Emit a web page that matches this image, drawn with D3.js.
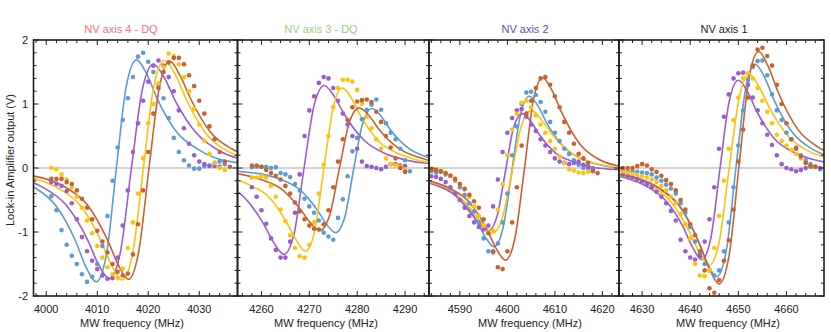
<!DOCTYPE html>
<html>
<head>
<meta charset="utf-8">
<script src="https://cdn.jsdelivr.net/npm/d3@7"></script>
<style>
  body { margin: 0; background: #fff; }
  svg { display: block; font-family: "Liberation Sans", Arial, sans-serif; }
</style>
</head>
<body>
<svg id="chart" width="831" height="332"></svg>
<script>
// ---- data ----
var panelTitles = ["NV axis 4 - DQ", "NV axis 3 - DQ", "NV axis 2", "NV axis 1"];
var freqDomains = [[3997.5, 4037.5], [4255, 4295], [4583.5, 4623.5], [4625.2, 4667.8]];
var freqTicks = [[4000, 4010, 4020, 4030], [4260, 4270, 4280, 4290], [4590, 4600, 4610, 4620], [4630, 4640, 4650, 4660]];
var voltTicks = [-2, -1, 0, 1, 2];
var seriesNames = ["blue", "purple", "yellow", "orange"];

// first frequency of each measured sweep (1 MHz steps)
var dotStarts = [[4001, 4001, 4001, 4001], [4258, 4258, 4258, 4258], [4584, 4584, 4584, 4584], [4625, 4625, 4625, 4625]];

// NV axis 4 - DQ
var dotsA4Blue = [-0.44,-0.66,-0.97,-1.20,-1.37,-1.50,-1.66,-1.78,-1.70,-1.50,-1.22,-0.75,-0.20,0.32,0.75,1.09,1.42,1.74,1.80,1.66,1.50,1.30,1.09,0.78,0.47,0.25,0.12,0.04,-0.01,-0.01,0.03,0.03,0.08,0.10,0.06];
var dotsA4Purple = [-0.22,-0.25,-0.28,-0.36,-0.55,-0.80,-1.08,-1.30,-1.45,-1.58,-1.68,-1.73,-1.72,-1.40,-0.90,-0.35,0.25,0.70,1.05,1.35,1.60,1.68,1.60,1.42,1.20,0.90,0.62,0.38,0.20,0.10,0.06,0.04,0.03,0.02];
var dotsA4Yellow = [0.00,-0.02,-0.10,-0.18,-0.30,-0.45,-0.62,-0.82,-1.02,-1.22,-1.40,-1.55,-1.66,-1.72,-1.57,-1.25,-0.85,-0.40,0.15,0.70,1.00,1.32,1.58,1.79,1.75,1.62,1.42,1.20,0.92,0.68,0.42,0.22,0.08,0.00,-0.03];
var dotsA4Orange = [-0.17,-0.17,-0.17,-0.22,-0.25,-0.35,-0.48,-0.62,-0.80,-0.98,-1.15,-1.32,-1.50,-1.62,-1.68,-1.65,-1.35,-0.88,-0.35,0.25,0.85,1.25,1.50,1.65,1.72,1.72,1.62,1.45,1.28,1.05,0.85,0.65,0.45,0.25,0.10,0.02];

// NV axis 3 - DQ
var dotsA3Blue = [0.01,0.02,0.02,0.02,0.00,0.01,-0.08,-0.10,-0.14,-0.25,-0.35,-0.48,-0.60,-0.70,-0.82,-1.01,-1.07,-1.12,-0.78,-0.49,-0.13,0.26,0.47,0.76,0.91,0.99,1.07,0.91,0.70,0.55,0.45,0.30,0.12,-0.05];
var dotsA3Purple = [-0.30,-0.45,-0.66,-0.87,-1.10,-1.28,-1.40,-1.40,-1.15,-0.70,-0.10,0.50,0.90,1.12,1.33,1.42,1.40,1.25,1.05,0.85,0.68,0.50,0.30,0.10,0.03,0.02,0.00,-0.02,0.02,0.06,0.06,0.04,0.03];
var dotsA3Yellow = [-0.15,-0.15,-0.13,-0.15,-0.28,-0.45,-0.65,-0.83,-1.05,-1.25,-1.38,-1.40,-1.20,-0.85,-0.40,0.05,0.50,0.95,1.25,1.38,1.38,1.35,1.22,1.00,0.80,0.62,0.45,0.30,0.15,0.06,0.04,0.02,-0.02];
var dotsA3Orange = [0.04,0.04,0.02,-0.03,-0.08,-0.12,-0.18,-0.28,-0.40,-0.54,-0.68,-0.80,-0.90,-0.95,-0.96,-0.88,-0.66,-0.30,0.10,0.45,0.75,0.95,1.04,1.06,1.07,1.03,0.88,0.72,0.50,0.32,0.15,0.00,-0.06];

// NV axis 2
var dotsA2Blue = [-0.05,-0.07,-0.06,-0.10,-0.12,-0.20,-0.30,-0.42,-0.55,-0.68,-0.85,-1.10,-1.30,-1.32,-1.18,-0.85,-0.40,0.20,0.65,1.00,1.18,1.19,1.14,1.03,0.88,0.72,0.55,0.42,0.30,0.22,0.12,0.05,0.00,0.00,0.00];
var dotsA2Purple = [-0.13,-0.14,-0.17,-0.22,-0.30,-0.40,-0.50,-0.62,-0.75,-0.85,-0.92,-0.96,-0.90,-0.60,-0.18,0.25,0.55,0.78,0.90,0.92,0.80,0.68,0.58,0.45,0.35,0.25,0.15,0.10,0.08,0.06,0.08,0.10,0.05,0.02,-0.02];
var dotsA2Yellow = [-0.01,-0.02,-0.04,-0.08,-0.12,-0.18,-0.25,-0.32,-0.45,-0.60,-0.75,-0.90,-1.00,-0.98,-0.65,-0.25,0.20,0.60,0.85,1.02,1.05,0.95,0.82,0.68,0.55,0.42,0.30,0.18,0.08,-0.02,-0.04,-0.07,-0.08,-0.06];
var dotsA2Orange = [-0.03,-0.03,-0.05,-0.08,-0.12,-0.17,-0.25,-0.33,-0.42,-0.52,-0.62,-0.80,-1.02,-1.30,-1.55,-1.58,-1.30,-0.85,-0.30,0.35,0.85,1.05,1.25,1.40,1.42,1.30,1.12,0.95,0.72,0.55,0.38,0.22,0.15,0.08,-0.05,-0.08];

// NV axis 1
var dotsA1Blue = [-0.03,-0.04,-0.05,-0.05,-0.06,-0.07,-0.08,-0.10,-0.15,-0.20,-0.26,-0.32,-0.40,-0.55,-0.70,-0.92,-1.15,-1.35,-1.50,-1.60,-1.68,-1.60,-1.30,-0.85,-0.30,0.35,0.90,1.38,1.58,1.67,1.68,1.45,1.15,0.90,0.75,0.55,0.45,0.32,0.20,0.12,0.06,0.02,-0.02];
var dotsA1Purple = [-0.08,-0.10,-0.12,-0.14,-0.17,-0.21,-0.25,-0.30,-0.37,-0.45,-0.55,-0.67,-0.82,-1.12,-1.30,-1.40,-1.43,-1.38,-1.15,-0.80,-0.30,0.30,0.80,1.15,1.40,1.48,1.49,1.30,1.10,0.90,0.70,0.52,0.36,0.20,0.06,0.00,-0.02,-0.05,-0.03,0.00,0.02,0.02,0.00];
var dotsA1Yellow = [-0.03,-0.05,-0.07,-0.09,-0.11,-0.13,-0.15,-0.18,-0.22,-0.28,-0.35,-0.45,-0.55,-0.72,-0.88,-1.10,-1.50,-1.68,-1.69,-1.60,-1.25,-0.75,-0.20,0.30,0.75,1.10,1.40,1.48,1.40,1.25,1.05,0.88,0.70,0.52,0.42,0.35,0.28,0.22,0.15,0.08,0.03,0.02];
var dotsA1Orange = [0.00,0.00,0.00,0.00,0.03,0.06,0.04,-0.02,-0.06,-0.12,-0.19,-0.25,-0.35,-0.50,-0.65,-0.88,-1.05,-1.30,-1.60,-1.88,-1.95,-1.75,-1.45,-1.13,-0.65,0.10,0.60,1.10,1.60,1.85,1.88,1.75,1.60,1.30,1.00,0.70,0.45,0.30,0.18,0.08,0.03,0.02];

// fitted curves, [MHz, V] points
var fitA4Blue = [[3986.1,-0.07],[3994.0,-0.18],[3998.0,-0.32],[4001.9,-0.59],[4005.85,-1.16],[4007.8,-1.55],[4009.8,-1.78],[4011.8,-1.35],[4013.75,0],[4015.7,1.28],[4017.7,1.69],[4019.7,1.47],[4021.65,1.10],[4025.6,0.56],[4029.6,0.30],[4033.5,0.15],[4041.4,0.05]];
var fitA4Purple = [[3986.6,-0.07],[3995.2,-0.17],[3999.5,-0.31],[4003.8,-0.57],[4008.1,-1.12],[4010.25,-1.51],[4012.4,-1.73],[4014.55,-1.31],[4016.7,0],[4018.85,1.23],[4021.0,1.62],[4023.15,1.41],[4025.3,1.05],[4029.6,0.53],[4033.9,0.27],[4038.2,0.14],[4046.8,0.05]];
var fitA4Yellow = [[3990.0,-0.07],[3998.3,-0.18],[4002.45,-0.32],[4006.6,-0.58],[4010.75,-1.14],[4012.8,-1.52],[4014.9,-1.75],[4016.95,-1.33],[4019.05,0],[4021.1,1.28],[4023.2,1.68],[4025.3,1.46],[4027.35,1.09],[4031.5,0.52],[4035.65,0.26],[4039.8,0.14],[4048.1,0.05]];
var fitA4Orange = [[3991.8,-0.07],[3999.9,-0.17],[4003.95,-0.31],[4008.0,-0.57],[4012.05,-1.13],[4014.1,-1.51],[4016.1,-1.74],[4018.1,-1.32],[4020.15,0],[4022.2,1.27],[4024.2,1.67],[4026.2,1.45],[4028.25,1.09],[4032.3,0.55],[4036.35,0.30],[4040.4,0.17],[4048.5,0.07]];

var fitA3Blue = [[4252.7,-0.04],[4260.3,-0.10],[4264.1,-0.18],[4267.9,-0.33],[4271.7,-0.66],[4273.6,-0.88],[4275.5,-1.01],[4277.4,-0.77],[4279.3,0],[4281.2,0.71],[4283.1,0.93],[4285.0,0.81],[4286.9,0.60],[4290.7,0.31],[4294.5,0.17],[4298.3,0.09],[4305.9,0.04]];
var fitA3Purple = [[4239.5,-0.05],[4247.9,-0.14],[4252.1,-0.24],[4256.3,-0.45],[4260.5,-0.88],[4262.6,-1.17],[4264.7,-1.35],[4266.8,-1.03],[4268.9,0],[4271.0,0.98],[4273.1,1.29],[4275.2,1.12],[4277.3,0.84],[4281.5,0.43],[4285.7,0.23],[4289.9,0.13],[4298.3,0.05]];
var fitA3Yellow = [[4246.1,-0.06],[4253.8,-0.16],[4257.65,-0.27],[4261.5,-0.45],[4265.35,-0.86],[4267.3,-1.13],[4269.2,-1.30],[4271.1,-0.99],[4273.05,0],[4275.0,0.95],[4276.9,1.25],[4278.8,1.09],[4280.75,0.81],[4284.6,0.41],[4288.45,0.23],[4292.3,0.13],[4300.0,0.05]];
var fitA3Orange = [[4247.6,-0.04],[4255.8,-0.10],[4259.9,-0.18],[4264.0,-0.32],[4268.1,-0.64],[4270.15,-0.85],[4272.2,-0.98],[4274.25,-0.74],[4276.3,0],[4278.35,0.71],[4280.4,0.94],[4282.45,0.82],[4284.5,0.61],[4288.6,0.31],[4292.7,0.17],[4296.8,0.09],[4305.0,0.04]];

var fitA2Blue = [[4575.0,-0.12],[4582.4,-0.19],[4586.1,-0.28],[4589.8,-0.45],[4593.5,-0.82],[4595.35,-1.08],[4597.2,-1.23],[4599.05,-0.95],[4600.9,-0.07],[4602.75,0.83],[4604.6,1.12],[4606.45,0.97],[4608.3,0.70],[4612.0,0.32],[4615.7,0.14],[4619.4,0.05],[4626.8,-0.02]];
var fitA2Purple = [[4574.7,-0.14],[4581.8,-0.21],[4585.35,-0.28],[4588.9,-0.42],[4592.45,-0.72],[4594.2,-0.88],[4596.0,-0.98],[4597.8,-0.76],[4599.55,-0.07],[4601.3,0.63],[4603.1,0.85],[4604.9,0.73],[4606.65,0.53],[4610.2,0.23],[4613.75,0.10],[4617.3,0.02],[4624.4,-0.03]];
var fitA2Yellow = [[4572.6,-0.11],[4580.7,-0.17],[4584.75,-0.24],[4588.8,-0.38],[4592.85,-0.69],[4594.9,-0.90],[4596.9,-1.02],[4598.9,-0.79],[4600.95,-0.07],[4603.0,0.67],[4605.0,0.90],[4607.0,0.77],[4609.05,0.56],[4613.1,0.25],[4617.15,0.10],[4621.2,0.03],[4629.3,-0.03]];
var fitA2Orange = [[4576.2,-0.12],[4584.0,-0.21],[4587.9,-0.32],[4591.8,-0.52],[4595.7,-0.96],[4597.65,-1.26],[4599.6,-1.44],[4601.55,-1.11],[4603.5,-0.07],[4605.45,1.05],[4607.4,1.41],[4609.35,1.22],[4611.3,0.89],[4615.2,0.38],[4619.1,0.14],[4623.0,0.04],[4630.8,-0.02]];

var fitA1Blue = [[4621.5,-0.07],[4629.5,-0.17],[4633.5,-0.31],[4637.5,-0.56],[4641.5,-1.11],[4643.5,-1.48],[4645.5,-1.70],[4647.5,-1.29],[4649.5,0],[4651.5,1.23],[4653.5,1.62],[4655.5,1.41],[4657.5,1.05],[4661.5,0.53],[4665.5,0.29],[4669.5,0.16],[4677.5,0.06]];
var fitA1Purple = [[4619.6,-0.08],[4627.2,-0.17],[4631.0,-0.29],[4634.8,-0.50],[4638.6,-0.93],[4640.5,-1.24],[4642.4,-1.43],[4644.3,-1.09],[4646.2,0],[4648.1,1.04],[4650.0,1.37],[4651.9,1.19],[4653.8,0.89],[4657.6,0.45],[4661.4,0.25],[4665.2,0.14],[4672.8,0.05]];
var fitA1Yellow = [[4619.05,-0.06],[4627.35,-0.15],[4631.5,-0.27],[4635.65,-0.50],[4639.8,-0.99],[4641.9,-1.32],[4643.95,-1.52],[4646.0,-1.16],[4648.1,0],[4650.2,1.11],[4652.25,1.46],[4654.3,1.27],[4656.4,0.95],[4660.55,0.48],[4664.7,0.26],[4668.85,0.15],[4677.15,0.06]];
var fitA1Orange = [[4621.4,-0.07],[4629.6,-0.18],[4633.7,-0.33],[4637.8,-0.60],[4641.9,-1.18],[4643.95,-1.57],[4646.0,-1.81],[4648.05,-1.38],[4650.1,0],[4652.15,1.38],[4654.2,1.82],[4656.25,1.58],[4658.3,1.18],[4662.4,0.60],[4666.5,0.33],[4670.6,0.18],[4678.8,0.07]];

var panelDots = [
  [dotsA4Blue, dotsA4Purple, dotsA4Yellow, dotsA4Orange],
  [dotsA3Blue, dotsA3Purple, dotsA3Yellow, dotsA3Orange],
  [dotsA2Blue, dotsA2Purple, dotsA2Yellow, dotsA2Orange],
  [dotsA1Blue, dotsA1Purple, dotsA1Yellow, dotsA1Orange]
];
var panelFits = [
  [fitA4Blue, fitA4Purple, fitA4Yellow, fitA4Orange],
  [fitA3Blue, fitA3Purple, fitA3Yellow, fitA3Orange],
  [fitA2Blue, fitA2Purple, fitA2Yellow, fitA2Orange],
  [fitA1Blue, fitA1Purple, fitA1Yellow, fitA1Orange]
];

// ---- layout / style ----
var Chart = (function () {

  var colors = {
    "blue": "#5b9bd5",
    "purple": "#9a5ccf",
    "yellow": "#ffc20a",
    "orange": "#c9612f"
  };
  var titleColors = ["#f2737c", "#9bd07a", "#5a4fb6", "#222222"];

  var edges = [33.5, 237.5, 429, 619, 824];
  var top = 40, bottom = 296;
  var titleX = [121, 321, 525, 724];
  var xLabelX = [132, 326, 530, 728];
  var frameColor = "#1e1e1e";

  var y = d3.scaleLinear().domain([-2, 2]).range([bottom, top]);

  var drawPanel = function (svg, p) {
    var left = edges[p], right = edges[p + 1];
    var dom = freqDomains[p];
    var x = d3.scaleLinear().domain(dom).range([left, right]);
    var g = svg.append("g").attr("class", "panel");

    g.append("clipPath").attr("id", "clip" + p)
      .append("rect")
      .attr("x", left).attr("y", top)
      .attr("width", right - left).attr("height", bottom - top);

    // zero line
    g.append("line")
      .attr("x1", left).attr("x2", right)
      .attr("y1", y(0)).attr("y2", y(0))
      .attr("stroke", "#d4d4d4").attr("stroke-width", 2);

    var plot = g.append("g").attr("clip-path", "url(#clip" + p + ")");

    var line = d3.line()
      .x(function (d) { return x(d[0]); })
      .y(function (d) { return y(d[1]); })
      .curve(d3.curveMonotoneX);

    seriesNames.forEach(function (name, i) {
      plot.append("path")
        .datum(panelFits[p][i])
        .attr("d", line)
        .attr("fill", "none")
        .attr("stroke", colors[name])
        .attr("stroke-width", 1.6);
    });

    seriesNames.forEach(function (name, i) {
      var start = dotStarts[p][i];
      plot.append("g").selectAll("circle")
        .data(panelDots[p][i])
        .enter()
        .append("circle")
        .attr("cx", function (d, k) { return x(start + k); })
        .attr("cy", function (d) { return y(d); })
        .attr("r", 2.3)
        .attr("fill", colors[name]);
    });

    // ticks on all four sides, pointing in
    var minorX = d3.range(Math.ceil(dom[0] / 2) * 2, dom[1], 2);
    var ticks = g.append("g").attr("stroke", frameColor).attr("stroke-width", 1);
    minorX.forEach(function (f) {
      var len = (f % 10 === 0) ? 5 : 3;
      ticks.append("line").attr("x1", x(f)).attr("x2", x(f)).attr("y1", bottom).attr("y2", bottom - len);
      ticks.append("line").attr("x1", x(f)).attr("x2", x(f)).attr("y1", top).attr("y2", top + len);
    });
    d3.range(-2, 2.001, 0.2).forEach(function (v) {
      var major = Math.abs(v - Math.round(v)) < 1e-6;
      var len = major ? 5 : 3;
      ticks.append("line").attr("x1", left).attr("x2", left + len).attr("y1", y(v)).attr("y2", y(v));
      ticks.append("line").attr("x1", right).attr("x2", right - len).attr("y1", y(v)).attr("y2", y(v));
    });

    g.append("rect")
      .attr("x", left).attr("y", top)
      .attr("width", right - left).attr("height", bottom - top)
      .attr("fill", "none")
      .attr("stroke", frameColor)
      .attr("stroke-width", 1.6);

    // tick labels
    g.append("g").selectAll("text")
      .data(freqTicks[p])
      .enter()
      .append("text")
      .attr("x", function (d) { return x(d); })
      .attr("y", 313)
      .attr("text-anchor", "middle")
      .attr("font-size", 11)
      .attr("fill", "#222")
      .text(function (d) { return d; });

    g.append("text")
      .attr("x", xLabelX[p]).attr("y", 327)
      .attr("text-anchor", "middle")
      .attr("font-size", 11)
      .attr("fill", "#222")
      .text("MW frequency (MHz)");

    g.append("text")
      .attr("x", titleX[p]).attr("y", 33)
      .attr("text-anchor", "middle")
      .attr("font-size", 11)
      .attr("fill", titleColors[p])
      .text(panelTitles[p]);
  };

  return {
    Draw: function () {
      var svg = d3.select("#chart");
      svg.append("rect").attr("width", 831).attr("height", 332).attr("fill", "#fff");

      for (var p = 0; p < 4; p++) drawPanel(svg, p);

      svg.append("g").selectAll("text")
        .data(voltTicks)
        .enter()
        .append("text")
        .attr("x", 28)
        .attr("y", function (d) { return y(d); })
        .attr("dy", "0.35em")
        .attr("text-anchor", "end")
        .attr("font-size", 11)
        .attr("fill", "#222")
        .text(function (d) { return d; });

      svg.append("text")
        .attr("transform", "translate(14,160) rotate(-90)")
        .attr("text-anchor", "middle")
        .attr("font-size", 11)
        .attr("fill", "#222")
        .text("Lock-in Amplifier output (V)");
    }
  };
})();

Chart.Draw();
</script>
</body>
</html>
